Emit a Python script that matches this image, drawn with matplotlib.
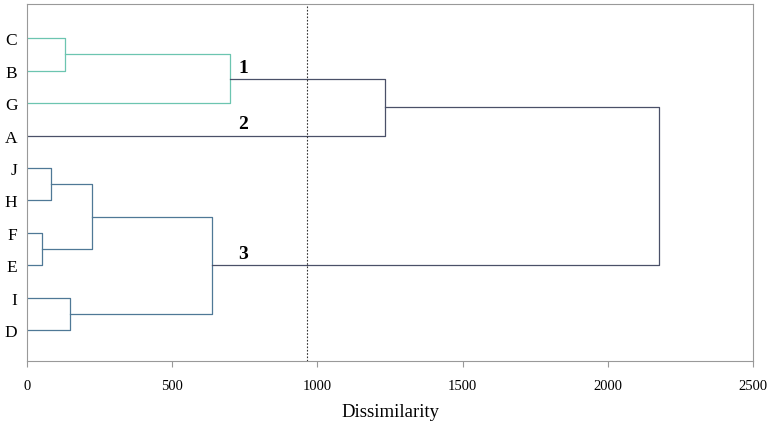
import matplotlib
matplotlib.use("Agg")
from matplotlib import pyplot as plt

# leaves, top to bottom
leaves = ["C", "B", "G", "A", "J", "H", "F", "E", "I", "D"]

# merges: (left node, right node, dissimilarity, colour group)
merges = [
    ("C", "B", 131, "teal"),
    ("CB", "G", 700, "teal"),
    ("J", "H", 83, "blue"),
    ("F", "E", 52, "blue"),
    ("JH", "FE", 224, "blue"),
    ("I", "D", 148, "blue"),
    ("JHFE", "ID", 637, "blue"),
    ("CBG", "A", 1233, "navy"),
    ("CBGA", "JHFEID", 2176, "navy"),
]
cutoff = 964
cluster_labels = ["1", "2", "3"]
cluster_nodes = ["CBG", "A", "JHFEID"]

colors = {"teal": "#6cc5b0", "blue": "#4f7896", "navy": "#4a5068"}

fig = plt.figure(figsize=(7.73, 4.27), dpi=100)
ax = fig.add_axes([0.035, 0.152, 0.939, 0.836])

pos = {name: (0.0, i) for i, name in enumerate(leaves)}
for a, b, h, grp in merges:
    xa, ya = pos[a]
    xb, yb = pos[b]
    ax.plot([xa, h, h, xb], [ya, ya, yb, yb], color=colors[grp], lw=0.9)
    pos[a + b] = (h, (ya + yb) / 2)

ax.axvline(cutoff, color="#333333", lw=0.8, ls=(0, (1.5, 1.5)))

for lab, node in zip(cluster_labels, cluster_nodes):
    ax.text(745, pos[node][1] - 0.1, lab, fontsize=14, fontweight="bold",
            family="Liberation Serif", va="bottom", ha="center")

ax.set_xlim(0, 2500)
ax.set_ylim(9.95, -1.05)
ax.set_xticks([0, 500, 1000, 1500, 2000, 2500])
ax.set_yticks(range(len(leaves)))
ax.set_yticklabels(leaves)
for t in ax.get_xticklabels():
    t.set_family("Liberation Serif")
    t.set_fontsize(10.5)
for t in ax.get_yticklabels():
    t.set_family("Liberation Serif")
    t.set_fontsize(12.5)
ax.tick_params(axis="y", length=0, pad=7)
ax.tick_params(axis="x", length=4, color="#999999", pad=9)
for s in ax.spines.values():
    s.set_color("#999999")
    s.set_linewidth(0.8)
ax.set_xlabel("Dissimilarity", family="Liberation Serif", fontsize=13.5, labelpad=8)

fig.savefig("out.png", dpi=100)
